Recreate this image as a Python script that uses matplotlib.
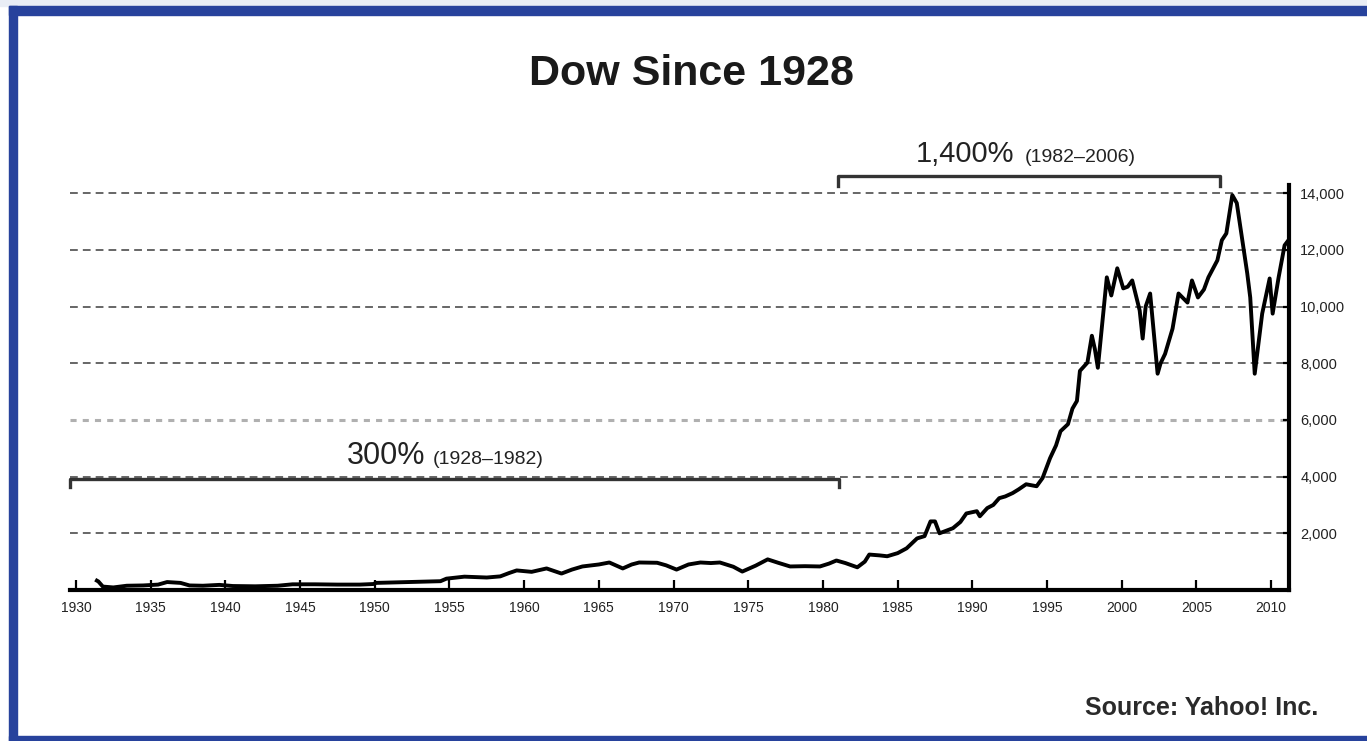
import matplotlib.pyplot as plt
from matplotlib.patches import Rectangle

plt.rcParams['font.family'] = ['Liberation Sans', 'DejaVu Sans']

# Dow Jones Industrial Average
years = [1931.4, 1931.5, 1931.8, 1932.5, 1933.4, 1934.5, 1935.5, 1936.1, 1937.0,
         1937.6, 1938.5, 1939.6, 1940.5, 1942.0, 1943.5, 1944.5, 1946.0, 1947.5,
         1949.0, 1949.9, 1950.1, 1951.5, 1953.0, 1954.4, 1954.8, 1956.0, 1957.5,
         1958.4, 1959.0, 1959.5, 1960.5, 1961.5, 1962.5, 1963.2, 1963.9, 1965.0,
         1965.7, 1966.6, 1967.2, 1967.7, 1968.9, 1969.5, 1970.2, 1971.0, 1971.8,
         1972.5, 1973.1, 1974.0, 1974.6, 1975.5, 1976.3, 1977.0, 1977.8, 1978.8,
         1979.8, 1980.4, 1980.9, 1981.5, 1982.3, 1982.8, 1983.1, 1983.8, 1984.3,
         1985.0, 1985.6, 1986.3, 1986.8, 1987.2, 1987.5, 1987.8, 1988.2, 1988.7,
         1989.2, 1989.6, 1990.3, 1990.5, 1991.0, 1991.4, 1991.8, 1992.2, 1992.7,
         1993.1, 1993.6, 1994.3, 1994.7, 1995.2, 1995.6, 1995.9, 1996.4, 1996.7,
         1997.0, 1997.2, 1997.7, 1998.0, 1998.2, 1998.4, 1999.0, 1999.3, 1999.7,
         2000.1, 2000.4, 2000.7, 2001.2, 2001.4, 2001.6, 2001.9, 2002.4, 2002.6,
         2002.9, 2003.4, 2003.8, 2004.1, 2004.4, 2004.7, 2005.1, 2005.5, 2005.8,
         2006.4, 2006.7, 2007.0, 2007.4, 2007.7, 2008.4, 2008.6, 2008.9, 2009.4,
         2009.9, 2010.1, 2010.5, 2010.9, 2011.1]
dow = [330, 300, 120, 90, 150, 160, 190, 280, 250,
       160, 150, 180, 140, 130, 150, 200, 200, 190,
       190, 210, 250, 270, 290, 310, 400, 470, 440,
       480, 600, 690, 640, 760, 580, 720, 830, 900,
       970, 760, 900, 970, 960, 870, 720, 900, 970,
       950, 970, 820, 650, 860, 1080, 960, 830, 840,
       830, 930, 1040, 950, 800, 1000, 1250, 1220, 1190,
       1300, 1470, 1820, 1900, 2420, 2420, 2000, 2080, 2180,
       2400, 2700, 2780, 2600, 2890, 3000, 3240, 3300, 3420,
       3550, 3730, 3660, 3950, 4650, 5100, 5600, 5850, 6400,
       6670, 7730, 8020, 8970, 8500, 7840, 11030, 10390, 11350,
       10640, 10700, 10920, 9860, 8870, 10000, 10460, 7630, 8000,
       8330, 9220, 10460, 10300, 10140, 10920, 10320, 10600, 11030,
       11630, 12340, 12580, 13930, 13650, 11170, 10320, 7630, 9750,
       10990, 9750, 11030, 12160, 12300]

year_ticks = list(range(1930, 2011, 5))
value_ticks = [2000, 4000, 6000, 8000, 10000, 12000, 14000]
value_labels = ['2,000', '4,000', '6,000', '8,000', '10,000', '12,000', '14,000']

fig = plt.figure(figsize=(13.67, 7.41), dpi=100)
ax = fig.add_axes([0.0512, 0.2038, 0.8918, 0.547])

ax.plot(years, dow, color='black', lw=2.8, solid_joinstyle='round', zorder=3)

ax.set_xlim(1929.6, 2011.2)
ax.set_ylim(0, 14300)
ax.set_xticks(year_ticks)
ax.set_xticklabels([str(y) for y in year_ticks])
ax.set_yticks(value_ticks)
ax.set_yticklabels(value_labels)
ax.yaxis.tick_right()

for s in ['top', 'left']:
    ax.spines[s].set_visible(False)
for s in ['bottom', 'right']:
    ax.spines[s].set_linewidth(3)
    ax.spines[s].set_color('black')

ax.tick_params(axis='x', direction='in', length=7, width=1.6, pad=8,
               labelsize=10, labelcolor='#222222')
ax.tick_params(axis='y', direction='in', length=4, width=1.6, pad=8,
               labelsize=10.5, labelcolor='#222222')

ax.grid(axis='y', color='#666666', lw=1.4, linestyle=(0, (4, 2.6)))
for val, gl in zip(value_ticks, ax.get_ygridlines()):
    if val == 6000:
        gl.set_color('#b0b0b0')
        gl.set_linewidth(2.2)
        gl.set_linestyle((0, (2, 2)))

# brackets
ax.plot([1929.6, 1929.6, 1981.1, 1981.1], [3650, 3900, 3900, 3650],
        color='#333333', lw=2.4, clip_on=False, zorder=4)
ax.plot([1981.0, 1981.0, 2006.6, 2006.6], [14250, 14600, 14600, 14250],
        color='#333333', lw=2.4, clip_on=False, zorder=4)

ax.text(1948.1, 4440, '300%', fontsize=22, color='#222222', va='baseline')
ax.text(1953.9, 4440, '(1928–1982)', fontsize=14, color='#222222', va='baseline')
ax.text(1986.2, 15100, '1,400%', fontsize=21, color='#222222', va='baseline')
ax.text(1993.5, 15100, '(1982–2006)', fontsize=14, color='#222222', va='baseline')

fig.text(0.506, 0.885, 'Dow Since 1928', fontsize=31, fontweight='bold',
         ha='center', va='baseline', color='#1a1a1a')
fig.text(0.964, 0.035, 'Source: Yahoo! Inc.', fontsize=18, fontweight='bold',
         ha='right', va='baseline', color='#2a2a2a')

# blue frame of the screenshot
W, H = 1367, 741
blue = '#27429c'
fig.patches.append(Rectangle((0, 1 - 6 / H), 1, 6 / H, transform=fig.transFigure,
                             color='#e9edf5', zorder=0))
fig.patches.append(Rectangle((9 / W, 1 - 15 / H), 1 - 9 / W, 9 / H,
                             transform=fig.transFigure, color=blue, zorder=5))
fig.patches.append(Rectangle((9 / W, 0), 8 / W, 1 - 6 / H,
                             transform=fig.transFigure, color=blue, zorder=5))
fig.patches.append(Rectangle((9 / W, 0), 1 - 9 / W, 5 / H,
                             transform=fig.transFigure, color=blue, zorder=5))

fig.savefig('out.png', dpi=100)
